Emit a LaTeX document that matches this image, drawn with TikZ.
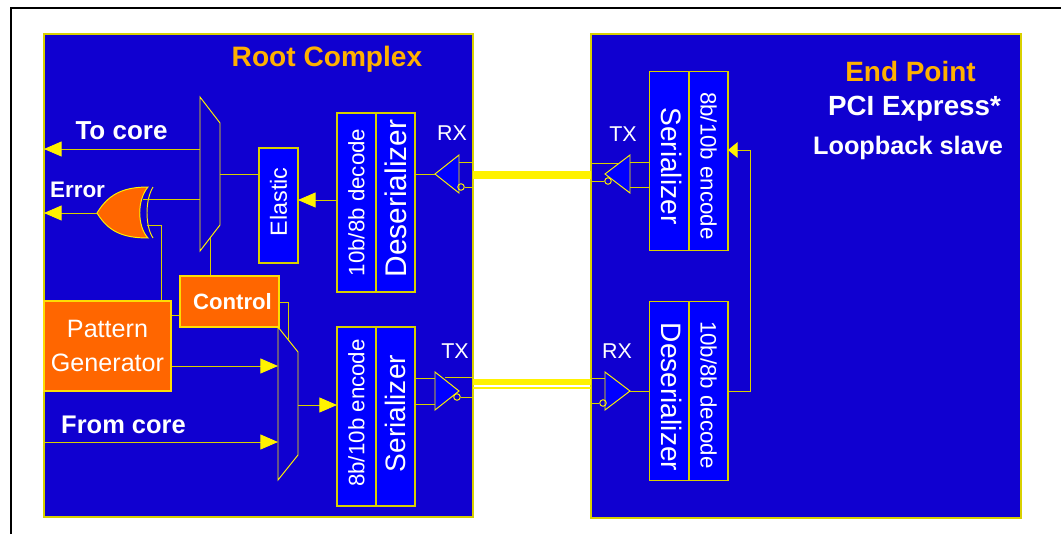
\documentclass[tikz,border=0pt]{standalone}
\usepackage{fontspec}
\setmainfont{Liberation Sans}
\usepackage{xcolor}
\definecolor{panelblue}{HTML}{1000D0}
\definecolor{boxblue}{HTML}{0000FF}
\definecolor{logicorange}{HTML}{FF6600}
\definecolor{titleorange}{HTML}{FFB000}
\definecolor{wireyellow}{HTML}{D8D000}
\usetikzlibrary{arrows.meta}
\tikzset{
  wire/.style={draw=wireyellow, line width=0.55pt},
  arrowwire/.style={wire, -{Triangle[length=10pt,width=8.5pt,color=yellow]}},
  panel/.style={draw=wireyellow, line width=0.7pt, fill=panelblue, inner sep=0pt},
  codec/.style={draw=wireyellow, line width=0.6pt, fill=boxblue, text=white, inner sep=0pt, minimum height=0.78cm, minimum width=3.58cm},
  logic/.style={draw=yellow!80!orange, line width=0.6pt, fill=logicorange, text=white, inner sep=0pt, align=center},
  gate/.style={draw=yellow, line width=0.55pt, fill=boxblue},
  bubble/.style={circle, draw=yellow, line width=0.55pt, inner sep=0pt, minimum size=0.13cm},
  boldlabel/.style={text=white, inner sep=0pt}
}
\begin{document}
\begin{tikzpicture}[x=0.02cm, y=-0.02cm]
  \useasboundingbox (0,0) rectangle (1061,534);
  % frame
  \draw[black, line width=1.1pt] (11,534) -- (11,8) -- (1061,8);
  % panels
  \node[panel, minimum width=8.58cm, minimum height=9.66cm] (root) at (258.5,275.5) {};
  \node[panel, minimum width=8.6cm, minimum height=9.68cm] (endpt) at (806,276) {};
  \node[text=titleorange, font=\bfseries\fontsize{16}{18}\selectfont, inner sep=0pt] (roottitle) at (327,59) {Root Complex};
  \node[text=titleorange, font=\bfseries\fontsize{15.9}{18}\selectfont, inner sep=0pt] (endtitle) at (910.5,72) {End Point};
  \node[boldlabel, font=\bfseries\fontsize{15.8}{18}\selectfont] (pcilabel) at (914.5,109) {PCI Express*};
  \node[boldlabel, font=\bfseries\fontsize{14.4}{18}\selectfont] (looplabel) at (908,148) {Loopback slave};
  % link wires
  \fill[yellow] (473,171) rectangle (591,179);
  \fill[yellow] (473,379) rectangle (591,385);
  \fill[yellow] (473,387) rectangle (591,389);
  % codec blocks
  \node[codec, rotate=90, font=\fontsize{12.7}{14}\selectfont] (decodea) at (356.5,202.5) {10b/8b decode};
  \node[codec, rotate=90, font=\fontsize{17}{19}\selectfont] (desera) at (395.5,202.5) {\hspace*{4.5pt}Deserializer};
  \node[codec, rotate=90, font=\fontsize{12.7}{14}\selectfont] (encodea) at (356.5,416.5) {\hspace*{4pt}8b/10b encode};
  \node[codec, rotate=90, font=\fontsize{16}{18}\selectfont] (sera) at (395.5,416.5) {\hspace*{3.4pt}Serializer};
  \node[codec, rotate=-90, font=\fontsize{16}{18}\selectfont] (serb) at (669,161) {\hspace*{5.6pt}\raisebox{3.4pt}{Serializer}};
  \node[codec, rotate=-90, font=\fontsize{12.7}{14}\selectfont] (encodeb) at (708.5,161) {\hspace*{5.6pt}8b/10b encode};
  \node[codec, rotate=-90, font=\fontsize{16}{18}\selectfont] (deserb) at (669,391) {\hspace*{6.8pt}\raisebox{3.4pt}{Deserializer}};
  \node[codec, rotate=-90, font=\fontsize{12.7}{14}\selectfont] (decodeb) at (708.5,391) {\hspace*{4.5pt}10b/8b decode};
  \node[codec, rotate=90, minimum width=2.3cm, font=\fontsize{13.3}{15}\selectfont] (elastic) at (278.5,205.5) {\hspace*{4pt}Elastic};
  % orange logic
  \node[logic, minimum width=2.54cm, minimum height=1.8cm, font=\fontsize{14.3}{19}\selectfont] (pattern) at (107.5,346) {Pattern\\Generator};
  \node[logic, minimum width=1.98cm, minimum height=1.02cm, font=\bfseries\fontsize{12.6}{15}\selectfont] (control) at (229.5,301.5) {\hspace*{3.4pt}Control};
  % muxes
  \draw[gate, fill=panelblue] (200,97) -- (220,123) -- (220,225) -- (200,251) -- cycle;
  \draw[gate, fill=panelblue] (278,327) -- (298,352) -- (298,455) -- (278,480) -- cycle;
  % xor gate
  \draw[gate, fill=logicorange] (97,213) .. controls (108,195) and (122,187) .. (148,187)
    .. controls (137,200) and (137,226) .. (148,238)
    .. controls (122,238) and (108,231) .. (97,213) -- cycle;
  \draw[draw=yellow, line width=0.55pt] (153,187) .. controls (145,200) and (145,226) .. (153,238);
  % tx and rx gates
  \draw[gate] (459,155) -- (435,174) -- (459,193) -- cycle;
  \draw[gate] (630,155) -- (605,174) -- (630,193) -- cycle;
  \draw[gate] (435,372) -- (459,391) -- (435,410) -- cycle;
  \draw[gate] (605,372) -- (630,391) -- (605,410) -- cycle;
  \node[bubble] (bubrxa) at (461,187) {};
  \node[bubble] (bubtxb) at (608,181) {};
  \node[bubble] (bubtxa) at (457,397) {};
  \node[bubble] (bubrxb) at (603,403) {};
  % ports
  \coordinate (tocore) at (44,149);
  \coordinate (muxatop) at (200,149);
  \coordinate (error) at (44,213);
  \coordinate (xortip) at (97,213);
  \coordinate (xorina) at (143,199);
  \coordinate (muxaxor) at (200,199);
  \coordinate (xorinb) at (147,225);
  \coordinate (muxaout) at (220,174);
  \coordinate (elasticin) at (259,174);
  \coordinate (elasticout) at (298,200);
  \coordinate (decodeout) at (337,200);
  \coordinate (muxasel) at (210,238);
  \coordinate (muxbsel) at (288,340);
  \coordinate (patmux) at (278,366);
  \coordinate (fromcore) at (44,442);
  \coordinate (coremux) at (278,442);
  \coordinate (muxbout) at (298,405);
  \coordinate (encin) at (337,405);
  % left side connectors
  \draw[arrowwire] (muxatop) -- (tocore);
  \draw[arrowwire] (xortip) -- (error);
  \draw[wire] (xorina) -- (muxaxor);
  \draw[wire] (xorinb) -| (pattern.north -| 161,301);
  \draw[wire] (muxaout) -- (elasticin);
  \draw[arrowwire] (decodeout) -- (elasticout);
  \draw[wire] (muxasel) -- (control.north -| muxasel);
  \draw[wire] (pattern.east |- 0,315) -- (control.west |- 0,315);
  \draw[wire] (control.east |- 0,302) -| (muxbsel);
  \draw[arrowwire] (pattern.east |- patmux) -- (patmux);
  \draw[arrowwire] (fromcore) -- (coremux);
  \draw[arrowwire] (muxbout) -- (encin);
  % rx and tx connectors
  \draw[wire] (435,174) -- (desera.south |- 0,174);
  \draw[wire] (459,162) -- (root.east |- 0,162);
  \draw[wire] (bubrxa) -- (root.east |- bubrxa);
  \draw[wire] (sera.south |- 0,378) -- (435,378);
  \draw[wire] (sera.south |- 0,404) -- (435,404);
  \draw[wire] (445,377) -- (root.east |- 0,377);
  \draw[wire] (bubtxa) -- (root.east |- bubtxa);
  \draw[wire] (endpt.west |- 0,163) -- (618,163);
  \draw[wire] (endpt.west |- bubtxb) -- (bubtxb);
  \draw[wire] (630,162) -- (serb.south |- 0,162);
  \draw[wire] (630,187) -- (serb.south |- 0,187);
  \draw[wire] (endpt.west |- 0,378) -- (605,378);
  \draw[wire] (endpt.west |- bubrxb) -- (bubrxb);
  \draw[wire] (630,391) -- (deserb.south |- 0,391);
  % loopback
  \coordinate (loopcorner) at (750,391);
  \coordinate (loopin) at (728,150);
  \draw[wire, -{Triangle[length=5.5pt,width=9pt,color=yellow]}] (decodeb.north) -- (loopcorner) |- (loopin);
  % labels
  \node[boldlabel, font=\bfseries\fontsize{14.8}{16}\selectfont] (tocorelabel) at (121.5,131) {To core};
  \node[boldlabel, font=\bfseries\fontsize{12.8}{15}\selectfont] (errorlabel) at (77.5,190) {Error};
  \node[boldlabel, font=\bfseries\fontsize{14.5}{16}\selectfont] (fromcorelabel) at (123.5,425) {From core};
  \foreach \n/\t/\x/\y in {rxa/RX/452/133, txb/TX/623/134, txa/TX/455/351, rxb/RX/617/351}
    \node[text=white, inner sep=0pt, font=\fontsize{12.2}{14}\selectfont] (label\n) at (\x,\y) {\t};
\end{tikzpicture}
\end{document}
